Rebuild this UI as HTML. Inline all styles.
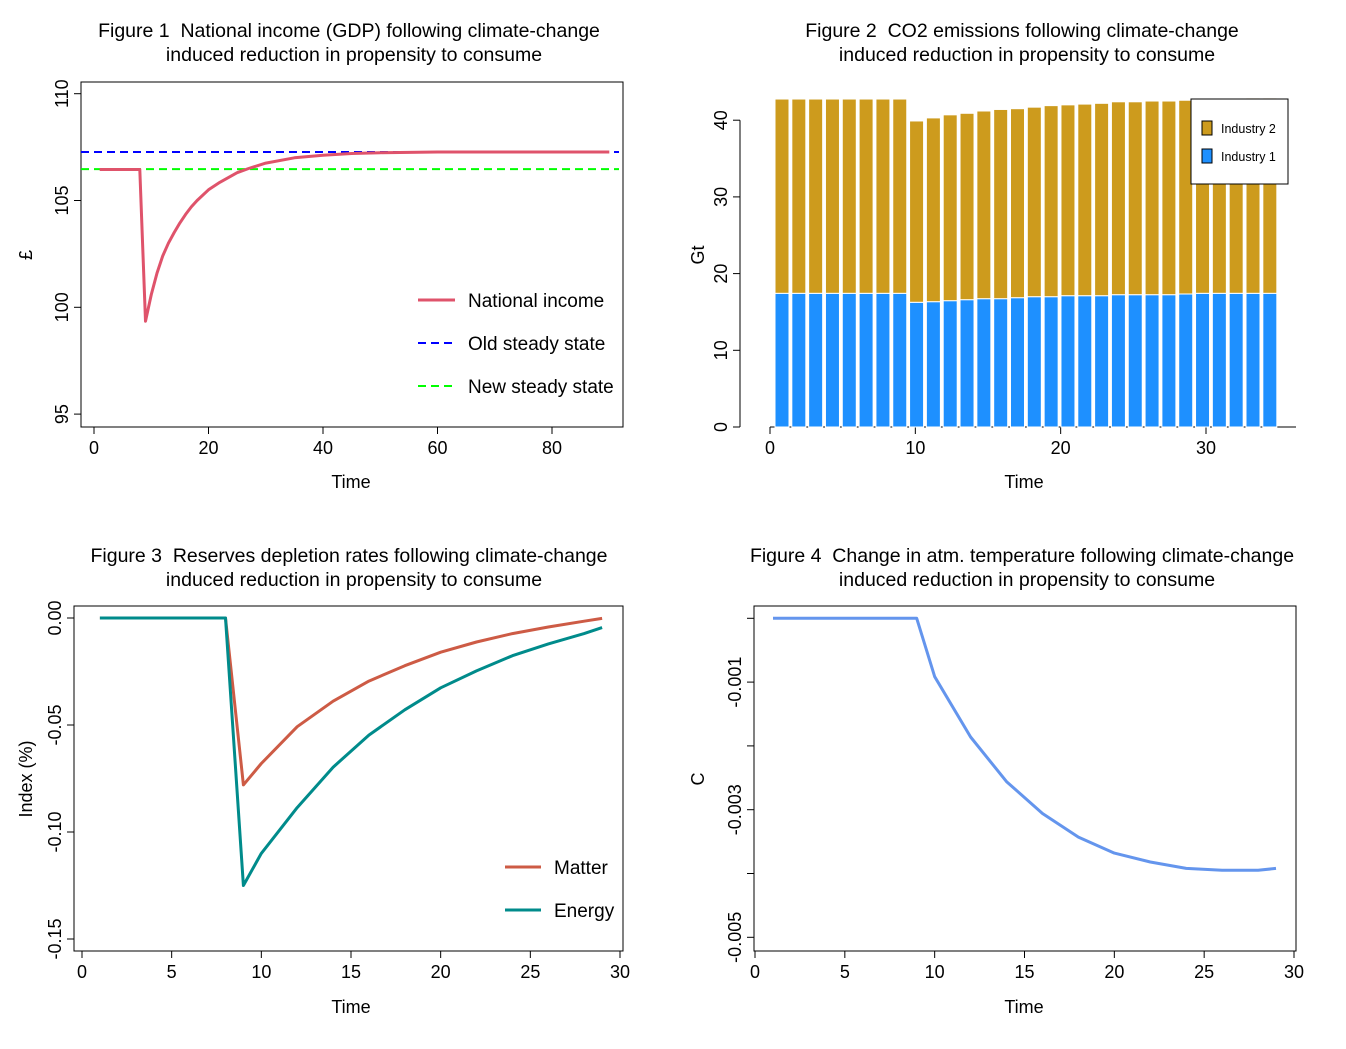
<!DOCTYPE html>
<html><head><meta charset="utf-8"><style>
body{margin:0;background:#fff;}
svg{display:block;font-family:"Liberation Sans",Arial,sans-serif;}
</style></head><body>
<svg id="s" width="1346" height="1049" viewBox="0 0 1346 1049">
<g font-size="19.5" text-anchor="middle" fill="#000">
<text x="349" y="37">Figure 1&#160; National income (GDP) following climate-change</text>
<text x="354" y="61">induced reduction in propensity to consume</text>
<text x="1022" y="37">Figure 2&#160; CO2 emissions following climate-change</text>
<text x="1027" y="61">induced reduction in propensity to consume</text>
<text x="349" y="562">Figure 3&#160; Reserves depletion rates following climate-change</text>
<text x="354" y="586">induced reduction in propensity to consume</text>
<text x="1022" y="562">Figure 4&#160; Change in atm. temperature following climate-change</text>
<text x="1027" y="586">induced reduction in propensity to consume</text>
</g>
<g font-size="18" text-anchor="middle">
<text x="351" y="488">Time</text>
<text x="1024" y="488">Time</text>
<text x="351" y="1013">Time</text>
<text x="1024" y="1013">Time</text>
<text transform="translate(32,255) rotate(-90)">£</text>
<text transform="translate(704,255) rotate(-90)">Gt</text>
<text transform="translate(32,779) rotate(-90)">Index (%)</text>
<text transform="translate(704,779) rotate(-90)">C</text>
</g>
<rect x="81" y="82" width="542" height="345" fill="none" stroke="#000"/>
<rect x="74" y="606" width="549" height="345" fill="none" stroke="#000"/>
<rect x="754" y="606" width="542" height="345" fill="none" stroke="#000"/>
<g id="marks"></g>
</svg>
<script>
// Figure 1 data
const f1Time=[1,8,9,10,11,12,13,14,15,16,17,18,20,22,25,27,30,35,40,45,50,60,70,90];
const f1Income=[106.45,106.45,99.35,100.6,101.6,102.4,103.0,103.5,103.95,104.35,104.7,105.0,105.5,105.85,106.3,106.5,106.75,107.0,107.12,107.2,107.24,107.27,107.27,107.27];
const f1OldSS=107.27, f1NewSS=106.47;
const f1XTicks=[0,20,40,60,80];
const f1YTicks=[95,100,105,110];
// Figure 2 data
const f2Ind1=[17.43,17.43,17.43,17.43,17.43,17.43,17.43,17.43,16.26,16.34,16.47,16.6,16.73,16.73,16.86,16.99,16.99,17.12,17.12,17.12,17.25,17.25,17.25,17.25,17.34,17.43,17.43,17.43,17.43,17.43];
const f2Total=[42.76,42.76,42.76,42.76,42.76,42.76,42.76,42.76,39.9,40.3,40.7,40.9,41.2,41.4,41.5,41.7,41.9,42.0,42.1,42.2,42.4,42.4,42.5,42.5,42.6,42.6,42.6,42.7,42.9,42.9];
const f2XTicks=[0,10,20,30];
const f2YTicks=[0,10,20,30,40];
// Figure 3 data
const f3Time=[1,8,9,10,12,14,16,18,20,22,24,26,28,29];
const f3Matter=[0,0,-0.078,-0.068,-0.0508,-0.0389,-0.0295,-0.0223,-0.016,-0.0112,-0.0073,-0.0042,-0.0015,-0.0002];
const f3Energy=[0,0,-0.125,-0.110,-0.0886,-0.0697,-0.0547,-0.0429,-0.0326,-0.0247,-0.0176,-0.0121,-0.0073,-0.0045];
const f3XTicks=[0,5,10,15,20,25,30];
const f3YTicks=[0,-0.05,-0.10,-0.15];
const f3YLabels=["0.00","-0.05","-0.10","-0.15"];
// Figure 4 data
const f4Time=[1,9,10,12,14,16,18,20,22,24,26,28,29];
const f4Temp=[0,0,-0.000916,-0.00186,-0.00256,-0.00306,-0.00343,-0.00368,-0.00382,-0.00392,-0.00395,-0.00395,-0.00392];
const f4XTicks=[0,5,10,15,20,25,30];
const f4YTicks=[-0.001,-0.003,-0.005];

const NS='http://www.w3.org/2000/svg';
const G=document.getElementById('marks');
function mk(tag,attrs,parent){const e=document.createElementNS(NS,tag);for(const k in attrs)e.setAttribute(k,attrs[k]);(parent||G).appendChild(e);return e;}
function lin(d0,d1,r0,r1){return v=>r0+(v-d0)*(r1-r0)/(d1-d0);}
function xAxis(sx,ticks,y,labels,name){
  const a=mk('line',{x1:sx(ticks[0]),x2:sx(ticks[ticks.length-1]),y1:y,y2:y,stroke:'#000'});
  
  
  ticks.forEach((t,i)=>{
    const l=mk('line',{x1:sx(t),x2:sx(t),y1:y,y2:y+7,stroke:'#000'});
    
    
    const tx=mk('text',{x:sx(t),y:y+27,'font-size':18,'text-anchor':'middle'});
    tx.textContent=labels?labels[i]:String(t);
    
    
  });
}
function yAxis(sy,ticks,x,labels,name){
  const a=mk('line',{x1:x,x2:x,y1:sy(ticks[0]),y2:sy(ticks[ticks.length-1]),stroke:'#000'});
  
  
  ticks.forEach((t,i)=>{
    const l=mk('line',{x1:x-7,x2:x,y1:sy(t),y2:sy(t),stroke:'#000'});
    
    
    if(labels&&labels[i]===null)return;
    const tx=mk('text',{transform:`translate(${x-13},${sy(t)}) rotate(-90)`,'font-size':18,'text-anchor':'middle'});
    tx.textContent=labels?labels[i]:String(t);
    
    
  });
}
function path(xs,ys,sx,sy,attrs){return mk('path',Object.assign({d:xs.map((x,i)=>(i?'L':'M')+sx(x).toFixed(1)+','+sy(ys[i]).toFixed(1)).join(''),fill:'none','stroke-linejoin':'round'},attrs));}
function legLine(x1,x2,y,color,dash,label,tx,name){
  const l=mk('line',{x1:x1,x2:x2,y1:y,y2:y,stroke:color,'stroke-width':dash?2:3,'stroke-dasharray':dash||'none'});
  
  
  const t=mk('text',{x:tx,y:y+7,'font-size':19});
  t.textContent=label;
  
  
}

// Figure 1
{const sx=lin(0,80,94,552), sy=lin(105,100,200.5,307.3);
xAxis(sx,f1XTicks,427,null,'fig1');
yAxis(sy,f1YTicks,81,null,'fig1');
const o=mk('line',{x1:81,x2:619,y1:sy(f1OldSS),y2:sy(f1OldSS),stroke:'#0000ff','stroke-width':2,'stroke-dasharray':'8,5'});


const n=mk('line',{x1:81,x2:619,y1:sy(f1NewSS),y2:sy(f1NewSS),stroke:'#00ff00','stroke-width':2,'stroke-dasharray':'8,5'});


const p=path(f1Time,f1Income,sx,sy,{stroke:'#df536b','stroke-width':3});


legLine(418,455,300,'#df536b',null,'National income',468,'national-income');
legLine(418,455,343,'#0000ff','8,5','Old steady state',468,'old-steady-state');
legLine(418,455,386,'#00ff00','8,5','New steady state',468,'new-steady-state');}

// Figure 2
{const sx=lin(0,30,770,1206), sy=lin(0,40,427,120.2), bx=lin(1,29,775,1246);
xAxis(sx,f2XTicks,427,null,'fig2');
const ax=mk('line',{x1:770,x2:1296,y1:427,y2:427,stroke:'#000'});


yAxis(sy,f2YTicks,740,null,'fig2');
f2Total.forEach((tot,i)=>{
  const x=bx(i+1);
  const b1=mk('rect',{x:x,y:sy(f2Ind1[i]),width:14,height:sy(0)-sy(f2Ind1[i]),fill:'#1e90ff',stroke:'#fff','stroke-width':1});
  
  
  const b2=mk('rect',{x:x,y:sy(tot),width:14,height:sy(f2Ind1[i])-sy(tot),fill:'#cd9b1d',stroke:'#fff','stroke-width':1});
  
  
});
const lg=mk('rect',{x:1191,y:99,width:97,height:85,fill:'#fff',stroke:'#000'});


[['Industry 2','#cd9b1d',121],['Industry 1','#1e90ff',149]].forEach(([lab,c,y])=>{
  const r=mk('rect',{x:1202,y:y,width:10,height:14,fill:c,stroke:'#000'});
  
  
  const t=mk('text',{x:1221,y:y+12,'font-size':12.5});
  t.textContent=lab;
  
  
});}

// Figure 3
{const sx=lin(0,30,82,620), sy=lin(0,-0.1,618,832);
xAxis(sx,f3XTicks,951,null,'fig3');
yAxis(sy,f3YTicks,74,f3YLabels,'fig3');
const m=path(f3Time,f3Matter,sx,sy,{stroke:'#cd5b45','stroke-width':3});


const e=path(f3Time,f3Energy,sx,sy,{stroke:'#008b8b','stroke-width':3});


legLine(505,541,867,'#cd5b45',null,'Matter',554,'matter');
legLine(505,541,910,'#008b8b',null,'Energy',554,'energy');}

// Figure 4
{const sx=lin(0,30,755,1294), sy=lin(0,-0.001,618.3,682.1);
xAxis(sx,f4XTicks,951,null,'fig4');
const all=[0,-0.001,-0.002,-0.003,-0.004,-0.005];
yAxis(sy,all,754,all.map(v=>f4YTicks.includes(v)?v.toFixed(3):null),'fig4');
const t=path(f4Time,f4Temp,sx,sy,{stroke:'#6495ed','stroke-width':3});

}
</script>
</body></html>
